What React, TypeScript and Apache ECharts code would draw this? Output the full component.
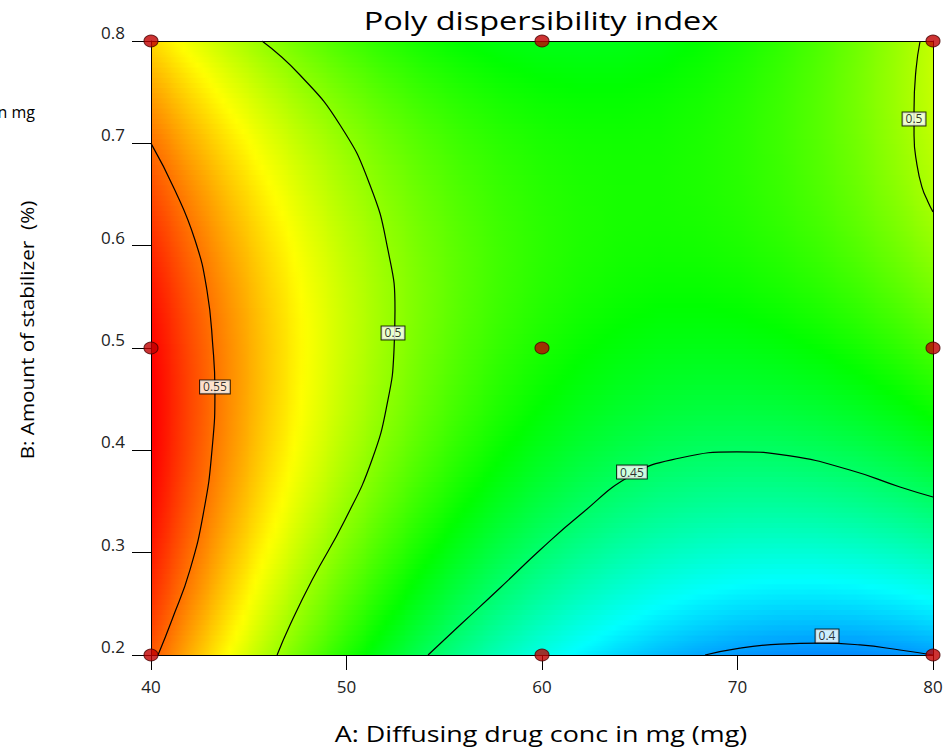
import React, { useEffect, useRef } from "react";
import * as echarts from "echarts";

// Factor levels of the sampled response grid
const drugConc = [40, 42, 44, 46, 48, 50, 52, 54, 56, 58, 60, 62, 64, 66, 68, 70, 72, 74, 76, 78, 80];
const stabilizer = [0.2, 0.23, 0.26, 0.29, 0.32, 0.35, 0.38, 0.41, 0.44, 0.47, 0.5, 0.53, 0.56, 0.59, 0.62, 0.65, 0.68, 0.71, 0.74, 0.77, 0.8];

// PDI: one row per stabilizer level, one column per drug conc
const pdiGrid: number[][] = [
  [0.5557, 0.5378, 0.5210, 0.5052, 0.4905, 0.4769, 0.4643, 0.4528, 0.4424, 0.4330, 0.4247, 0.4175, 0.4113, 0.4061, 0.4021, 0.3991, 0.3972, 0.3963, 0.3965, 0.3978, 0.4001],
  [0.5601, 0.5425, 0.5261, 0.5106, 0.4963, 0.4830, 0.4707, 0.4596, 0.4495, 0.4405, 0.4325, 0.4256, 0.4198, 0.4149, 0.4113, 0.4086, 0.4070, 0.4065, 0.4070, 0.4087, 0.4113],
  [0.5639, 0.5467, 0.5306, 0.5154, 0.5014, 0.4885, 0.4766, 0.4658, 0.4560, 0.4473, 0.4397, 0.4332, 0.4277, 0.4231, 0.4198, 0.4175, 0.4163, 0.4161, 0.4169, 0.4189, 0.4219],
  [0.5671, 0.5502, 0.5344, 0.5197, 0.5060, 0.4934, 0.4818, 0.4713, 0.4620, 0.4536, 0.4463, 0.4401, 0.4349, 0.4308, 0.4278, 0.4258, 0.4249, 0.4250, 0.4263, 0.4286, 0.4319],
  [0.5697, 0.5532, 0.5377, 0.5233, 0.5099, 0.4977, 0.4865, 0.4763, 0.4673, 0.4592, 0.4523, 0.4465, 0.4416, 0.4378, 0.4351, 0.4335, 0.4330, 0.4334, 0.4350, 0.4376, 0.4413],
  [0.5717, 0.5555, 0.5404, 0.5263, 0.5133, 0.5014, 0.4905, 0.4807, 0.4720, 0.4643, 0.4577, 0.4522, 0.4477, 0.4442, 0.4419, 0.4406, 0.4404, 0.4412, 0.4431, 0.4461, 0.4501],
  [0.5731, 0.5572, 0.5425, 0.5287, 0.5161, 0.5045, 0.4939, 0.4845, 0.4761, 0.4688, 0.4625, 0.4573, 0.4532, 0.4500, 0.4481, 0.4471, 0.4472, 0.4484, 0.4506, 0.4540, 0.4583],
  [0.5739, 0.5584, 0.5440, 0.5305, 0.5182, 0.5070, 0.4968, 0.4877, 0.4796, 0.4726, 0.4667, 0.4619, 0.4581, 0.4552, 0.4536, 0.4530, 0.4535, 0.4550, 0.4575, 0.4612, 0.4659],
  [0.5741, 0.5589, 0.5448, 0.5318, 0.5198, 0.5089, 0.4990, 0.4902, 0.4826, 0.4759, 0.4703, 0.4658, 0.4623, 0.4599, 0.4586, 0.4583, 0.4591, 0.4609, 0.4639, 0.4679, 0.4729],
  [0.5737, 0.5589, 0.5451, 0.5324, 0.5207, 0.5102, 0.5007, 0.4922, 0.4849, 0.4785, 0.4733, 0.4692, 0.4660, 0.4639, 0.4629, 0.4630, 0.4642, 0.4663, 0.4696, 0.4739, 0.4793],
  [0.5727, 0.5582, 0.5448, 0.5324, 0.5211, 0.5109, 0.5017, 0.4936, 0.4866, 0.4806, 0.4757, 0.4719, 0.4691, 0.4673, 0.4667, 0.4671, 0.4686, 0.4711, 0.4747, 0.4794, 0.4851],
  [0.5711, 0.5569, 0.5439, 0.5318, 0.5209, 0.5110, 0.5021, 0.4944, 0.4877, 0.4821, 0.4775, 0.4740, 0.4716, 0.4701, 0.4699, 0.4706, 0.4724, 0.4753, 0.4792, 0.4843, 0.4903],
  [0.5689, 0.5551, 0.5424, 0.5306, 0.5200, 0.5105, 0.5020, 0.4946, 0.4882, 0.4829, 0.4787, 0.4756, 0.4735, 0.4723, 0.4724, 0.4735, 0.4757, 0.4789, 0.4831, 0.4885, 0.4949],
  [0.5661, 0.5526, 0.5402, 0.5289, 0.5186, 0.5094, 0.5012, 0.4941, 0.4882, 0.4832, 0.4793, 0.4765, 0.4747, 0.4740, 0.4744, 0.4758, 0.4783, 0.4818, 0.4865, 0.4922, 0.4989],
  [0.5627, 0.5496, 0.5375, 0.5265, 0.5165, 0.5077, 0.4999, 0.4931, 0.4875, 0.4828, 0.4793, 0.4769, 0.4754, 0.4750, 0.4757, 0.4775, 0.4804, 0.4842, 0.4892, 0.4952, 0.5023],
  [0.5587, 0.5459, 0.5342, 0.5235, 0.5139, 0.5054, 0.4979, 0.4915, 0.4862, 0.4819, 0.4787, 0.4766, 0.4755, 0.4754, 0.4765, 0.4786, 0.4818, 0.4860, 0.4913, 0.4977, 0.5051],
  [0.5541, 0.5416, 0.5303, 0.5199, 0.5107, 0.5025, 0.4953, 0.4893, 0.4843, 0.4804, 0.4775, 0.4757, 0.4750, 0.4752, 0.4767, 0.4791, 0.4826, 0.4872, 0.4928, 0.4996, 0.5073],
  [0.5489, 0.5368, 0.5258, 0.5157, 0.5068, 0.4990, 0.4922, 0.4865, 0.4818, 0.4782, 0.4757, 0.4743, 0.4739, 0.4744, 0.4762, 0.4790, 0.4829, 0.4878, 0.4937, 0.5008, 0.5089],
  [0.5431, 0.5313, 0.5206, 0.5110, 0.5024, 0.4949, 0.4884, 0.4830, 0.4788, 0.4755, 0.4733, 0.4722, 0.4721, 0.4731, 0.4752, 0.4783, 0.4825, 0.4877, 0.4941, 0.5015, 0.5099],
  [0.5367, 0.5253, 0.5149, 0.5056, 0.4973, 0.4902, 0.4841, 0.4790, 0.4751, 0.4721, 0.4703, 0.4696, 0.4698, 0.4711, 0.4735, 0.4770, 0.4816, 0.4871, 0.4938, 0.5015, 0.5103],
  [0.5297, 0.5186, 0.5086, 0.4996, 0.4917, 0.4849, 0.4791, 0.4744, 0.4708, 0.4682, 0.4667, 0.4663, 0.4669, 0.4685, 0.4713, 0.4751, 0.4800, 0.4859, 0.4929, 0.5010, 0.5101],
];

// Contour lines [A, B]
const contour055 = [[40, 0.7], [41.23, 0.654], [42.25, 0.6055], [42.86, 0.5567], [43.17, 0.5], [43.27, 0.4589], [43.12, 0.4003], [42.71, 0.3417], [41.99, 0.283], [41.07, 0.2342], [40.36, 0.2]];
const contour050Left = [[45.68, 0.8], [47.62, 0.7668], [49.67, 0.7179], [51.2, 0.6593], [52.12, 0.5958], [52.48, 0.5371], [52.43, 0.498], [52.12, 0.4492], [51.3, 0.3905], [49.92, 0.3319], [48.24, 0.2733], [47.11, 0.2293], [46.45, 0.2]];
const contour050Right = [[79.34, 0.8], [79.13, 0.772], [79.03, 0.733], [79.03, 0.708], [79.18, 0.679], [79.44, 0.657], [79.74, 0.643], [80, 0.633]];
const contour045 = [[54.17, 0.2], [55.81, 0.2293], [57.85, 0.2655], [59.9, 0.3026], [61.94, 0.3368], [64.6, 0.3759], [67.06, 0.3925], [69.97, 0.3984], [72.69, 0.3945], [75.75, 0.3808], [78.31, 0.3642], [80, 0.3544]];
const contour040 = [[68.34, 0.2], [70.13, 0.2068], [72.17, 0.2107], [74.22, 0.2117], [76.27, 0.2098], [78.31, 0.2049], [80, 0.2]];

const contourLabels = [
  { name: "0.55", value: [43.27, 0.462] },
  { name: "0.5", value: [52.38, 0.5147] },
  { name: "0.45", value: [64.6, 0.3788] },
  { name: "0.4", value: [74.58, 0.2186] },
  { name: "0.5", value: [79.03, 0.7238] },
];

// Design points (3x3 factorial)
const designA = [40, 60, 80];
const designB = [0.2, 0.5, 0.8];

// Colour scale: blue -> cyan -> green -> yellow -> red
const colorScaleValues = [0.369, 0.42, 0.471, 0.522, 0.573];
const colorScaleRGB = [[0, 0, 255], [0, 255, 255], [0, 255, 0], [255, 255, 0], [255, 0, 0]];

function pdiColor(v: number): string {
  const s = colorScaleValues;
  if (v <= s[0]) return `rgb(${colorScaleRGB[0].join(",")})`;
  for (let k = 1; k < s.length; k++) {
    if (v <= s[k]) {
      const t = (v - s[k - 1]) / (s[k] - s[k - 1]);
      const a = colorScaleRGB[k - 1], b = colorScaleRGB[k];
      const c = a.map((x, n) => Math.round(x + (b[n] - x) * t));
      return `rgb(${c.join(",")})`;
    }
  }
  return `rgb(${colorScaleRGB[s.length - 1].join(",")})`;
}

// shading helper: position of x inside a sorted level list
function locate(arr: number[], x: number): [number, number] {
  let k = 0;
  while (k < arr.length - 2 && x > arr[k + 1]) k++;
  const t = (x - arr[k]) / (arr[k + 1] - arr[k]);
  return [k, Math.min(1, Math.max(0, t))];
}
function shadeAt(a: number, b: number): number {
  const [i, ti] = locate(drugConc, a);
  const [j, tj] = locate(stabilizer, b);
  const g = pdiGrid;
  const lo = (1 - ti) * g[j][i] + ti * g[j][i + 1];
  const hi = (1 - ti) * g[j + 1][i] + ti * g[j + 1][i + 1];
  return (1 - tj) * lo + tj * hi;
}

const FONT = '"Open Sans", "Noto Sans", sans-serif';

export default function App() {
  const ref = useRef<HTMLDivElement>(null);
  useEffect(() => {
    document.body.style.margin = "0";
    const chart = echarts.init(ref.current!, null, { renderer: "svg" });
    const nA = drugConc.length;
    const nB = stabilizer.length;
    const gridData: number[][] = [];
    for (let j = 0; j < nB; j++) for (let i = 0; i < nA; i++) gridData.push([drugConc[i], stabilizer[j], pdiGrid[j][i]]);

    const renderCell = (params: any, api: any) => {
      const idx = params.dataIndex;
      const j = Math.floor(idx / nA), i = idx % nA;
      const A = drugConc[i], B = stabilizer[j];
      const aL = i > 0 ? (drugConc[i - 1] + A) / 2 : A;
      const aR = i < nA - 1 ? (drugConc[i + 1] + A) / 2 : A;
      const bB = j > 0 ? (stabilizer[j - 1] + B) / 2 : B;
      const bT = j < nB - 1 ? (stabilizer[j + 1] + B) / 2 : B;
      const K = 6;
      const N = 6;
      const children: any[] = [];
      for (let s = 0; s < K; s++) {
        const b0 = bB + ((bT - bB) * s) / K;
        const b1 = bB + ((bT - bB) * (s + 1)) / K;
        const bc = (b0 + b1) / 2;
        const pTL = api.coord([aL, b1]);
        const pBR = api.coord([aR, b0]);
        const w = pBR[0] - pTL[0] + (i < nA - 1 ? 1 : 0);
        const h = pBR[1] - pTL[1] + (j > 0 || s > 0 ? 1 : 0);
        const stops: any[] = [];
        for (let k = 0; k <= N; k++) {
          const t = k / N;
          stops.push({ offset: t, color: pdiColor(shadeAt(aL + t * (aR - aL), bc)) });
        }
        children.push({
          type: "rect",
          shape: { x: pTL[0], y: pTL[1], width: w, height: h },
          style: { fill: new echarts.graphic.LinearGradient(0, 0, 1, 0, stops) },
        });
      }
      return { type: "group", children };
    };

    const contourLine = (data: number[][]) => ({
      type: "line",
      data,
      smooth: true,
      symbol: "none",
      silent: true,
      lineStyle: { color: "#000", width: 1.2 },
      z: 3,
    });

    const designPts: number[][] = [];
    designA.forEach((a) => designB.forEach((b) => designPts.push([a, b])));

    const axisCommon = {
      type: "value",
      axisLine: { show: true, onZero: false, lineStyle: { color: "#000", width: 1 } },
      splitLine: { show: false },
      z: 5,
    };

    chart.setOption({
      animation: false,
      textStyle: { fontFamily: FONT },
      grid: { left: 151, top: 41, width: 782, height: 614, containLabel: false },
      xAxis: [
        {
          ...axisCommon,
          position: "bottom",
          min: 40, max: 80, interval: 10,
          axisTick: { show: true, length: 15, lineStyle: { color: "#000" } },
          axisLabel: { margin: 23, fontSize: 17, color: "#222", fontFamily: FONT },
        },
        {
          ...axisCommon,
          position: "top",
          min: 40, max: 80, interval: 10,
          axisTick: { show: false },
          axisLabel: { show: false },
        },
      ],
      yAxis: [
        {
          ...axisCommon,
          position: "left",
          min: 0.2, max: 0.8, interval: 0.1,
          axisTick: { show: true, length: 19, lineStyle: { color: "#000" } },
          axisLabel: {
            margin: 26, fontSize: 17, color: "#222", fontFamily: FONT, verticalAlign: "bottom",
            formatter: (val: number) => String(Math.round(val * 10) / 10),
          },
        },
        {
          ...axisCommon,
          position: "right",
          min: 0.2, max: 0.8, interval: 0.1,
          axisTick: { show: false },
          axisLabel: { show: false },
        },
      ],
      series: [
        {
          type: "custom",
          name: "PDI",
          data: gridData,
          encode: { x: 0, y: 1 },
          renderItem: renderCell,
          silent: true,
          z: 1,
        },
        contourLine(contour055),
        contourLine(contour050Left),
        contourLine(contour050Right),
        contourLine(contour045),
        contourLine(contour040),
        {
          type: "scatter",
          data: contourLabels,
          symbolSize: 1,
          itemStyle: { color: "rgba(0,0,0,0)" },
          silent: true,
          z: 4,
          label: {
            show: true,
            position: "inside",
            formatter: "{b}",
            fontSize: 12,
            fontFamily: FONT,
            color: "#000",
            backgroundColor: "#fff",
            borderColor: "#000",
            borderWidth: 1,
            padding: [1, 3, 0, 3],
          },
        },
        {
          type: "scatter",
          data: designPts,
          symbol: "circle",
          symbolSize: [14, 12],
          clip: false,
          silent: true,
          itemStyle: { color: "#c00000", borderColor: "#4a0000", borderWidth: 1 },
          z: 10,
        },
      ],
      graphic: [
        {
          type: "text",
          x: 541, y: 20,
          scaleX: 1.3,
          style: { text: "Poly dispersibility index", font: `25px ${FONT}`, fill: "#000", align: "center", verticalAlign: "middle" },
        },
        {
          type: "text",
          x: 541, y: 734,
          scaleX: 1.28,
          style: { text: "A: Diffusing drug conc in mg (mg)", font: `21px ${FONT}`, fill: "#000", align: "center", verticalAlign: "middle" },
        },
        {
          type: "text",
          x: 27, y: 330,
          rotation: Math.PI / 2,
          scaleX: 1.09,
          style: { text: "B: Amount of stabilizer  (%)", font: `19px ${FONT}`, fill: "#000", align: "center", verticalAlign: "middle" },
        },
        {
          type: "text",
          x: 35, y: 112,
          style: { text: "A: Diffusing drug conc in mg", font: `16px ${FONT}`, fill: "#000", align: "right", verticalAlign: "middle" },
        },
      ],
    });
    return () => chart.dispose();
  }, []);
  return <div ref={ref} style={{ position: "absolute", left: 0, top: 0, width: 951, height: 750 }} />;
}
